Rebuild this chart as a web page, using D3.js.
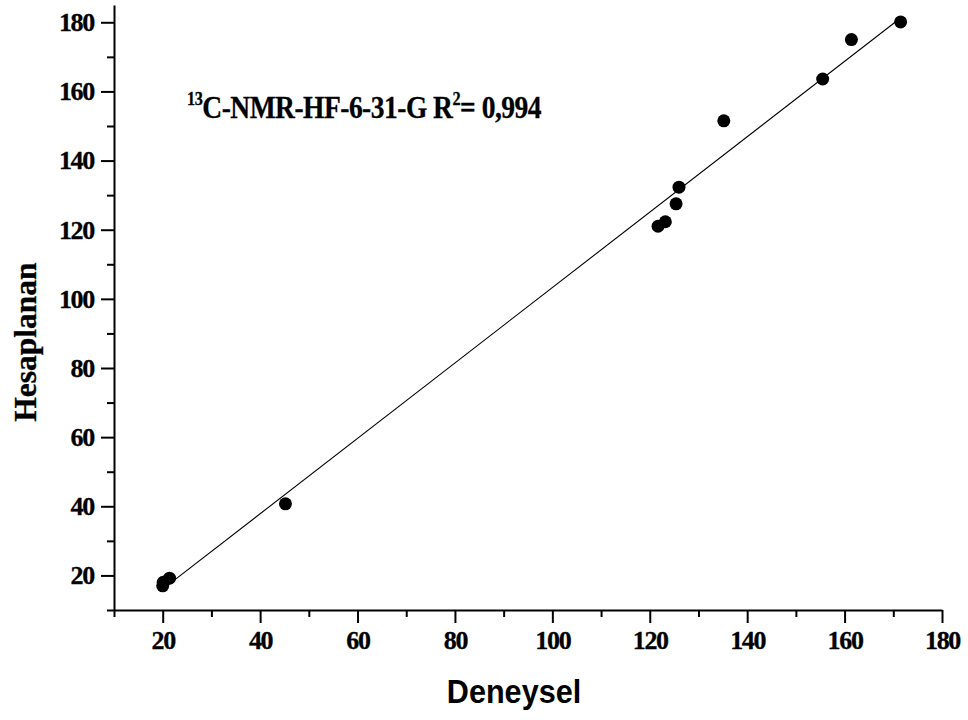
<!DOCTYPE html>
<html>
<head>
<meta charset="utf-8">
<script src="https://cdn.jsdelivr.net/npm/d3@7"></script>
<style>
  html, body { margin: 0; padding: 0; background: #fff; }
  svg { display: block; }
</style>
</head>
<body>
<svg id="chart" width="968" height="720"></svg>
<script>
// Experimental vs. calculated 13C-NMR shifts (HF/6-31G)
const deneysel   = [20.0, 20.1, 21.4, 45.2, 121.7, 123.2, 125.4, 126.0, 135.2, 155.5, 161.4, 171.5];
const hesaplanan = [17.0, 18.0, 19.2, 40.7, 121.0, 122.3, 127.5, 132.3, 151.5, 163.6, 175.0, 180.1];
const xTicks = [20, 40, 60, 80, 100, 120, 140, 160, 180];
const yTicks = [20, 40, 60, 80, 100, 120, 140, 160, 180];
const xMinor = [10, 30, 50, 70, 90, 110, 130, 150, 170];
const yMinor = [10, 30, 50, 70, 90, 110, 130, 150, 170];
const rSquared = "0,994";

const serif = "'Liberation Serif', 'Times New Roman', serif";
const svg = d3.select("#chart");
const plotLeft = 114, plotRight = 942, plotTop = 5, plotBottom = 610;

const x = d3.scaleLinear().domain([10, 180]).range([plotLeft, plotRight]);
const y = d3.scaleLinear().domain([10, 185]).range([plotBottom, plotTop]);

// minor ticks
const minorX = d3.axisBottom(x).tickValues(xMinor).tickSize(7).tickFormat("");
const minorY = d3.axisLeft(y).tickValues(yMinor).tickSize(7).tickFormat("");
svg.append("g").attr("transform", `translate(0,${plotBottom})`).call(minorX)
  .call(g => g.select(".domain").remove())
  .selectAll("line").attr("stroke", "#000").attr("stroke-width", 2);
svg.append("g").attr("transform", `translate(${plotLeft},0)`).call(minorY)
  .call(g => g.select(".domain").remove())
  .selectAll("line").attr("stroke", "#000").attr("stroke-width", 2);

// major axes
const xAxis = d3.axisBottom(x).tickValues(xTicks).tickSize(13).tickSizeOuter(0).tickPadding(7);
const yAxis = d3.axisLeft(y).tickValues(yTicks).tickSize(13).tickSizeOuter(0).tickPadding(7);

const gx = svg.append("g").attr("transform", `translate(0,${plotBottom})`).call(xAxis);
const gy = svg.append("g").attr("transform", `translate(${plotLeft},0)`).call(yAxis);

[gx, gy].forEach(g => {
  g.attr("font-family", serif).attr("font-size", 26).attr("font-weight", "bold");
  g.select(".domain").attr("stroke", "#000").attr("stroke-width", 2);
  g.selectAll(".tick line").attr("stroke", "#000").attr("stroke-width", 2);
  g.selectAll(".tick text")
    .attr("fill", "#000")
    .attr("stroke", "#000").attr("stroke-width", 0.3)
    .attr("letter-spacing", "-1.3px");
});
gx.selectAll(".tick text").attr("dy", "0.72em");
gy.selectAll(".tick text").attr("dy", "0.32em");

// linear fit through the data
const mx = d3.mean(deneysel), my = d3.mean(hesaplanan);
let sxy = 0, sxx = 0;
deneysel.forEach((v, i) => { sxy += (v - mx) * (hesaplanan[i] - my); sxx += (v - mx) ** 2; });
const slope = sxy / sxx, intercept = my - slope * mx;
const [x0, x1] = d3.extent(deneysel);
svg.append("line")
  .attr("x1", x(x0)).attr("y1", y(intercept + slope * x0))
  .attr("x2", x(x1)).attr("y2", y(intercept + slope * x1))
  .attr("stroke", "#000").attr("stroke-width", 1.1);

// points
svg.append("g").selectAll("circle")
  .data(deneysel.map((d, i) => [d, hesaplanan[i]]))
  .join("circle")
  .attr("cx", d => x(d[0])).attr("cy", d => y(d[1]))
  .attr("r", 6.5).attr("fill", "#000");

// axis titles
svg.append("text")
  .attr("transform", "translate(514,703) scale(0.9,1)")
  .attr("text-anchor", "middle")
  .attr("font-family", "'Liberation Sans', Arial, sans-serif")
  .attr("font-weight", "bold").attr("font-size", 34)
  .text("Deneysel");

svg.append("text")
  .attr("transform", "translate(36,342) rotate(-90)")
  .attr("text-anchor", "middle")
  .attr("font-family", serif)
  .attr("font-weight", "bold").attr("font-size", 31.5)
  .attr("stroke", "#000").attr("stroke-width", 0.3)
  .text("Hesaplanan");

// annotation
const note = svg.append("text")
  .attr("transform", "translate(187,118) scale(0.86,1)")
  .attr("font-family", serif)
  .attr("font-weight", "bold").attr("font-size", 32)
  .attr("stroke", "#000").attr("stroke-width", 0.3)
  .attr("letter-spacing", "-0.6px");
note.append("tspan").attr("font-size", 19).attr("dy", -13).text("13");
note.append("tspan").attr("dy", 13).text("C-NMR-HF-6-31-G R");
note.append("tspan").attr("font-size", 19).attr("dy", -13).text("2");
note.append("tspan").attr("dy", 13).text("= " + rSquared);
</script>
</body>
</html>
